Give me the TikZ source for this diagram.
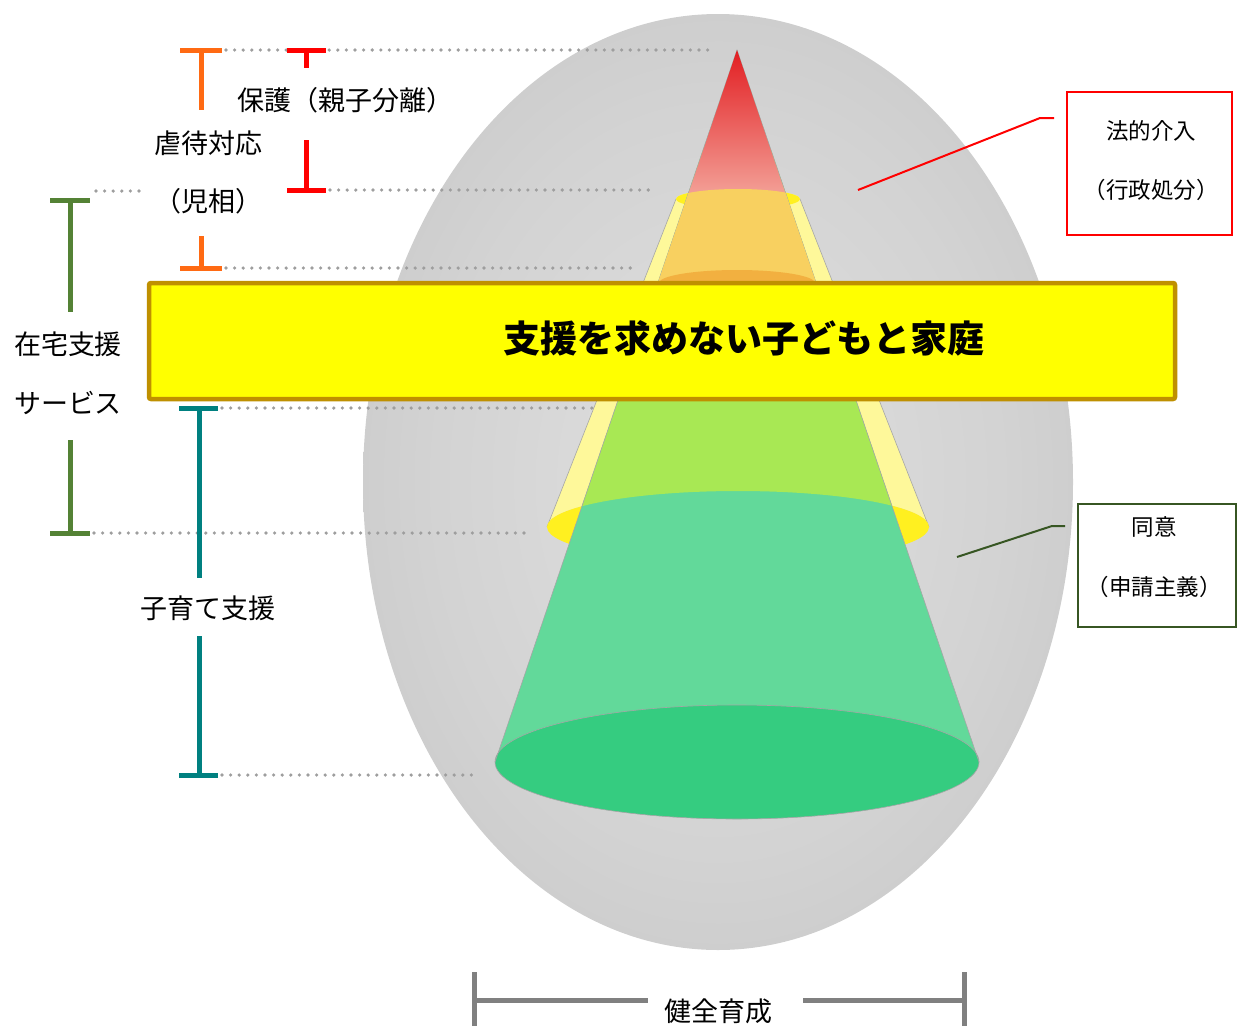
\documentclass[tikz,border=0pt]{standalone}
\usepackage{fontspec}
\newfontfamily\jpfont{Noto Sans CJK JP}
\usetikzlibrary{positioning}

\definecolor{eggedge}{HTML}{BFBFBF}
\definecolor{eggmid}{HTML}{E0E0E0}
\definecolor{abusecol}{HTML}{FF6A13}
\definecolor{homecol}{HTML}{548235}
\definecolor{childcol}{HTML}{008080}
\definecolor{consentcol}{HTML}{375623}
\definecolor{bannerfill}{HTML}{FFFF00}
\definecolor{banneredge}{HTML}{BF9000}
\definecolor{conemint}{HTML}{62D99A}
\definecolor{conebase}{HTML}{35CC80}
\definecolor{conelime}{HTML}{A8E854}
\definecolor{conepale}{HTML}{FEF89A}
\definecolor{coneyellow}{HTML}{FFF020}
\definecolor{coneorange}{HTML}{F8D060}
\definecolor{conedeep}{HTML}{F2B040}
\definecolor{conered}{HTML}{E21E22}
\definecolor{conepink}{HTML}{F4A89E}
\definecolor{dotgray}{HTML}{9E9E9E}

\pgfdeclareradialshading{eggshade}{\pgfpoint{0bp}{0bp}}{%
  color(0bp)=(eggmid); color(20bp)=(eggmid!60!eggedge);
  color(36bp)=(eggmid!15!eggedge); color(50bp)=(eggedge); color(72bp)=(eggedge)}

\tikzset{
  lbl/.style={font=\jpfont\fontsize{27}{30}\selectfont, inner sep=0pt},
  note/.style={font=\jpfont\fontsize{22.5}{25}\selectfont, inner sep=0pt},
  guide/.style={dotgray, line width=3.6pt, line cap=round, dash pattern=on 0pt off 8.6pt},
  bar/.style={line width=5pt},
  rim/.style={draw=gray!70, line width=0.6pt},
}

\begin{document}
\begin{tikzpicture}[x=1pt, y=-1pt]
  \useasboundingbox (0,0) rectangle (1243,1026);

  % egg
  \shade[shading=eggshade] (718,482) ellipse[x radius=355, y radius=468];

  % dotted guides
  \draw[guide] (226,50) -- (715,50);
  \draw[guide] (330,190) -- (655,190);
  \draw[guide] (96,191) -- (146,191);
  \draw[guide] (226,268) -- (635,268);
  \draw[guide] (222,408) -- (598,408);
  \draw[guide] (94,533) -- (525,533);
  \draw[guide] (222,775) -- (475,775);

  % pale frustum
  \fill[conepale] (676,199) -- (547,527)
    arc[start angle=180, end angle=360, x radius=191, y radius=36]
    -- (800,199) arc[start angle=0, end angle=-180, x radius=62, y radius=10] -- cycle;
  \draw[rim] (676,199) -- (547,527) (800,199) -- (929,527);
  \fill[coneyellow] (738,527) ellipse[x radius=191, y radius=36];
  \fill[coneyellow] (738,199) ellipse[x radius=62, y radius=10];

  % green cone
  \fill[conemint] (737,50) -- (495,762) -- (979,762) -- cycle;
  \begin{scope}
    \clip (737,50) -- (495,762) -- (979,762) -- cycle;
    \fill[conelime] (400,150) -- (400,527) -- (547,527)
      arc[start angle=180, end angle=360, x radius=191, y radius=36]
      -- (1100,527) -- (1100,150) -- cycle;
  \end{scope}
  \fill[conebase] (737,762) ellipse[x radius=242, y radius=57];
  \draw[rim] (495,762) -- (737,50) -- (979,762);
  \draw[rim] (737,762) ellipse[x radius=242, y radius=57];

  % red tip and orange band
  \shade[top color=conered, bottom color=conepink] (737,50) -- (685,204) -- (789,204) -- cycle;
  \begin{scope}
    \clip (737,50) -- (652,300) -- (822,300) -- cycle;
    \fill[coneorange] (676,199) arc[start angle=180, end angle=360, x radius=62, y radius=10]
      -- (830,300) -- (640,300) -- cycle;
    \fill[conedeep] (737,283) ellipse[x radius=78, y radius=13];
  \end{scope}

  % banner
  \node[draw=banneredge, fill=bannerfill, line width=4.5pt, rounded corners=2pt,
        minimum width=1026pt, minimum height=116pt, inner sep=0pt] (family) at (662,341) {};
  \node[font=\jpfont\bfseries\fontsize{37}{40}\selectfont, inner sep=0pt] (familytext) at (744,338) {支援を求めない子どもと家庭};

  % abuse response
  \draw[bar, abusecol] (180,50) -- (222,50) (201,50) -- (201,110);
  \draw[bar, abusecol] (180,268) -- (222,268) (201,236) -- (201,268);
  \node[lbl] (abuse) at (208,143) {虐待対応};
  \node[lbl] (abusesub) at (208,201) {（児相）};

  % protection
  \draw[bar, red] (287,50) -- (326,50) (306,50) -- (306,68);
  \draw[bar, red] (287,190) -- (326,190) (306,140) -- (306,190);
  \node[lbl] (protect) at (345,100) {保護（親子分離）};

  % home care services
  \draw[bar, homecol] (50,200) -- (90,200) (70,200) -- (70,312);
  \draw[bar, homecol] (50,533) -- (90,533) (70,440) -- (70,533);
  \node[lbl] (homecare) at (68,344) {在宅支援};
  \node[lbl] (homecaresub) at (68,403) {サービス};

  % child rearing support
  \draw[bar, childcol] (179,408) -- (218,408) (199,408) -- (199,578);
  \draw[bar, childcol] (179,775) -- (218,775) (199,636) -- (199,775);
  \node[lbl] (childcare) at (208,608) {子育て支援};

  % healthy growth
  \draw[bar, gray] (474,972) -- (474,1030) (964,972) -- (964,1030);
  \draw[bar, gray] (474,1000) -- (648,1000) (803,1000) -- (964,1000);
  \node[lbl] (growth) at (718,1011) {健全育成};

  % legal intervention
  \node[draw=red, line width=2pt, minimum width=165pt, minimum height=143pt] (legalbox) at (1149.5,163.5) {};
  \node[note] (legal) at (1151,131) {法的介入};
  \node[note] (legalsub) at (1151,190) {（行政処分）};
  \coordinate (legalpt) at (858,190);
  \coordinate (legalknee) at (1040,118);
  \coordinate (legalend) at (1054,118);
  \draw[red, line width=2pt] (legalpt) -- (legalknee) -- (legalend);

  % consent
  \node[draw=consentcol, line width=2pt, minimum width=158pt, minimum height=123pt] (consentbox) at (1157,565.5) {};
  \node[note] (consent) at (1154,527) {同意};
  \node[note] (consentsub) at (1154,587) {（申請主義）};
  \coordinate (consentpt) at (957,557);
  \coordinate (consentknee) at (1052,526);
  \coordinate (consentend) at (1065,526);
  \draw[consentcol, line width=2pt] (consentpt) -- (consentknee) -- (consentend);
\end{tikzpicture}
\end{document}
